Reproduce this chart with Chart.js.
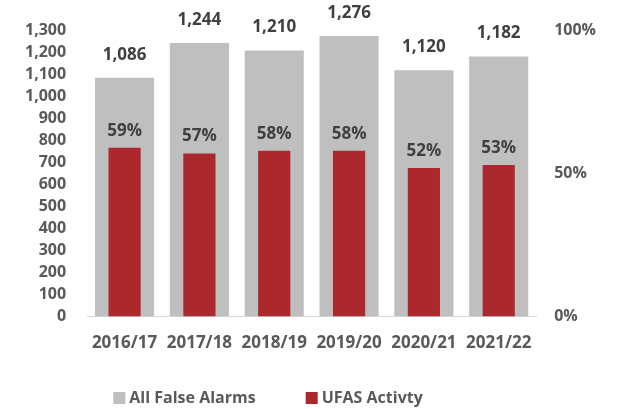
<!DOCTYPE html>
<html>
<head>
<meta charset="utf-8">
<script src="https://cdn.jsdelivr.net/npm/chart.js@4"></script>
<style>
  html, body { margin: 0; padding: 0; background: #fff; }
  #wrap { width: 617px; height: 409px; }
</style>
</head>
<body>
<div id="wrap"><canvas id="alarms"></canvas></div>
<script>
const years = ['2016/17', '2017/18', '2018/19', '2019/20', '2020/21', '2021/22'];
const allFalseAlarms = [1086, 1244, 1210, 1276, 1120, 1182];
const ufasShare = [59, 57, 58, 58, 52, 53];   // % of false alarms that were UFAS

const FONT = '"Open Sans", Lato, sans-serif';
const GREY = '#bfbfbf';
const RED = '#ab282c';
const TEXT = '#595959';

// values over the bars
const barLabels = {
  id: 'barLabels',
  afterDatasetsDraw(chart) {
    const c = chart.ctx;
    c.save();
    c.font = 'bold 17px ' + FONT;
    c.fillStyle = '#404040';
    c.textAlign = 'center';
    c.textBaseline = 'middle';
    chart.data.datasets.forEach((ds, i) => {
      const meta = chart.getDatasetMeta(i);
      meta.data.forEach((bar, j) => {
        const v = ds.data[j];
        const txt = ds.yAxisID === 'y1' ? v + '%' : v.toLocaleString('en-US');
        const off = ds.yAxisID === 'y1' ? 17 : 23;
        c.fillText(txt, bar.x, bar.y - off);
      });
    });
    c.restore();
  }
};

// legend under the axis
const bottomLegend = {
  id: 'bottomLegend',
  afterDraw(chart) {
    const c = chart.ctx;
    c.save();
    c.font = 'bold 16px ' + FONT;
    c.textBaseline = 'middle';
    const box = 12, gap = 4, spacing = 50;
    const items = chart.data.datasets.map(ds => ({
      label: ds.label, color: ds.backgroundColor, w: box + gap + c.measureText(ds.label).width
    }));
    const total = items.reduce((s, it) => s + it.w, 0) + spacing * (items.length - 1);
    let x = chart.chartArea.right / 2 - total / 2;
    const y = 398;
    items.forEach(it => {
      c.fillStyle = it.color;
      c.fillRect(x, y - box / 2, box, box);
      c.fillStyle = TEXT;
      c.fillText(it.label, x + box + gap, y);
      x += it.w + spacing;
    });
    c.restore();
  }
};

new Chart(document.getElementById('alarms'), {
  type: 'bar',
  data: {
    labels: years,
    datasets: [
      {
        label: 'All False Alarms',
        data: allFalseAlarms,
        backgroundColor: GREY,
        yAxisID: 'y',
        grouped: false,
        order: 1,
        categoryPercentage: 1,
        barPercentage: 0.79
      },
      {
        label: 'UFAS Activty',
        data: ufasShare,
        backgroundColor: RED,
        yAxisID: 'y1',
        grouped: false,
        order: 0,
        categoryPercentage: 1,
        barPercentage: 0.43
      }
    ]
  },
  options: {
    responsive: true,
    maintainAspectRatio: false,
    animation: false,
    layout: { padding: { top: 30, left: 4, right: 3, bottom: 40 } },
    plugins: {
      legend: { display: false },
      tooltip: { enabled: false }
    },
    scales: {
      x: {
        grid: { display: false, drawTicks: false },
        border: { display: true, color: '#d9d9d9', width: 1 },
        ticks: { color: TEXT, font: { family: FONT, size: 17, weight: 'bold' }, padding: 16, maxRotation: 0, autoSkip: false }
      },
      y: {
        position: 'left',
        min: 0,
        max: 1300,
        grid: { display: false, drawTicks: false },
        border: { display: false },
        ticks: {
          stepSize: 100,
          autoSkip: false,
          color: TEXT,
          padding: 21,
          font: { family: FONT, size: 16, weight: 'bold' },
          callback: v => v.toLocaleString('en-US')
        }
      },
      y1: {
        position: 'right',
        min: 0,
        max: 100,
        grid: { display: false, drawTicks: false },
        border: { display: false },
        ticks: {
          stepSize: 50,
          color: TEXT,
          padding: 18,
          font: { family: FONT, size: 16, weight: 'bold' },
          callback: v => v + '%'
        }
      }
    }
  },
  plugins: [barLabels, bottomLegend]
});
</script>
</body>
</html>
